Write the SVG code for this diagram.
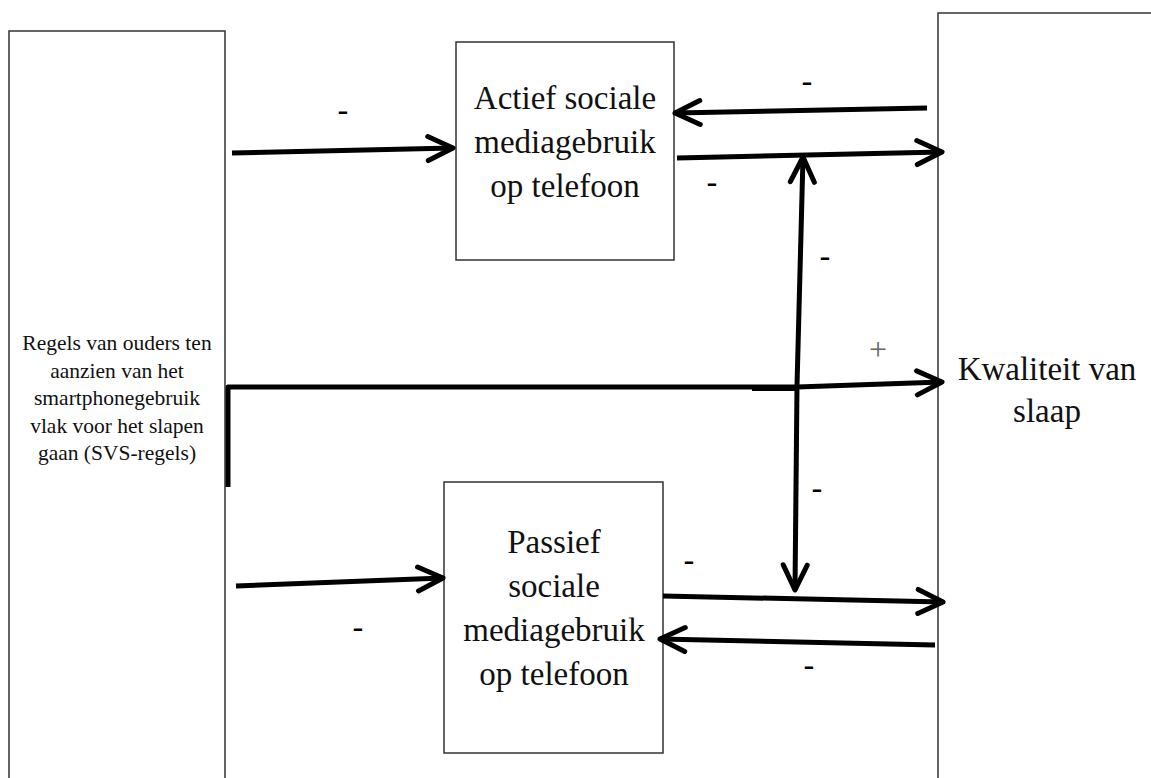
<svg xmlns="http://www.w3.org/2000/svg" width="1151" height="778" viewBox="0 0 1151 778">
<style>
.box{fill:#fff;stroke:#333;stroke-width:1.5}
.t{font-family:"Liberation Serif","Times New Roman",serif;fill:#111;text-anchor:middle}
.big{font-size:33px}
.small{font-size:21.5px}
.c{fill:none;stroke:#000;stroke-width:5;stroke-linecap:butt;stroke-linejoin:round}
.sign{font-family:"Liberation Sans",Arial,sans-serif;font-size:34px;fill:#000;text-anchor:middle}
.plus{font-family:"Liberation Serif","Times New Roman",serif;font-size:32px;fill:#666;text-anchor:middle}
</style>
<defs>
<marker id="ah" markerUnits="userSpaceOnUse" markerWidth="40" markerHeight="40" viewBox="-30 -20 40 40" refX="0" refY="0" orient="auto" overflow="visible">
<path d="M-25,-12 L0,0 L-25,12" fill="none" stroke="#000" stroke-width="5" stroke-linecap="round" stroke-linejoin="round"/>
</marker>
</defs>
<rect width="1151" height="778" fill="#fff"/>
<g id="node-svs">
<rect class="box" x="9" y="31" width="216" height="800"/>
<text class="t small" x="117" y="350">Regels van ouders ten</text>
<text class="t small" x="117" y="378">aanzien van het</text>
<text class="t small" x="117" y="405">smartphonegebruik</text>
<text class="t small" x="117" y="433">vlak voor het slapen</text>
<text class="t small" x="117" y="460">gaan (SVS-regels)</text>
</g>
<g id="node-slaap">
<rect class="box" x="938" y="13" width="300" height="800"/>
<text class="t big" x="1047" y="380">Kwaliteit van</text>
<text class="t big" x="1047" y="422">slaap</text>
</g>
<g id="node-actief">
<rect class="box" x="456" y="42" width="218" height="218"/>
<text class="t big" x="565" y="109">Actief sociale</text>
<text class="t big" x="565" y="153">mediagebruik</text>
<text class="t big" x="565" y="197">op telefoon</text>
</g>
<g id="node-passief">
<rect class="box" x="444" y="482" width="219" height="271"/>
<text class="t big" x="554" y="553">Passief</text>
<text class="t big" x="554" y="597">sociale</text>
<text class="t big" x="554" y="641">mediagebruik</text>
<text class="t big" x="554" y="685">op telefoon</text>
</g>
<g id="connectors">
<path class="c" d="M232,153 L453,148" marker-end="url(#ah)"/>
<path class="c" d="M927,108 L675,113" marker-end="url(#ah)"/>
<path class="c" d="M677,158 L942,152" marker-end="url(#ah)"/>
<path class="c" d="M797,386 L803,157" marker-end="url(#ah)"/>
<path class="c" d="M797,386 L795,590" marker-end="url(#ah)"/>
<path class="c" d="M228,487 L228,387 L797,387 L942,382" marker-end="url(#ah)"/>
<path class="c" d="M752,388.5 L797,388.5"/>
<path class="c" d="M236,586 L443,578" marker-end="url(#ah)"/>
<path class="c" d="M663,596 L943,602" marker-end="url(#ah)"/>
<path class="c" d="M935,645 L660,639" marker-end="url(#ah)"/>
</g>
<g id="labels">
<text class="sign" x="343" y="122">-</text>
<text class="sign" x="807" y="93">-</text>
<text class="sign" x="712" y="194">-</text>
<text class="sign" x="825" y="268">-</text>
<text class="plus" x="878" y="360">+</text>
<text class="sign" x="817" y="500">-</text>
<text class="sign" x="689" y="572">-</text>
<text class="sign" x="358" y="639">-</text>
<text class="sign" x="809" y="677">-</text>
</g>
</svg>
